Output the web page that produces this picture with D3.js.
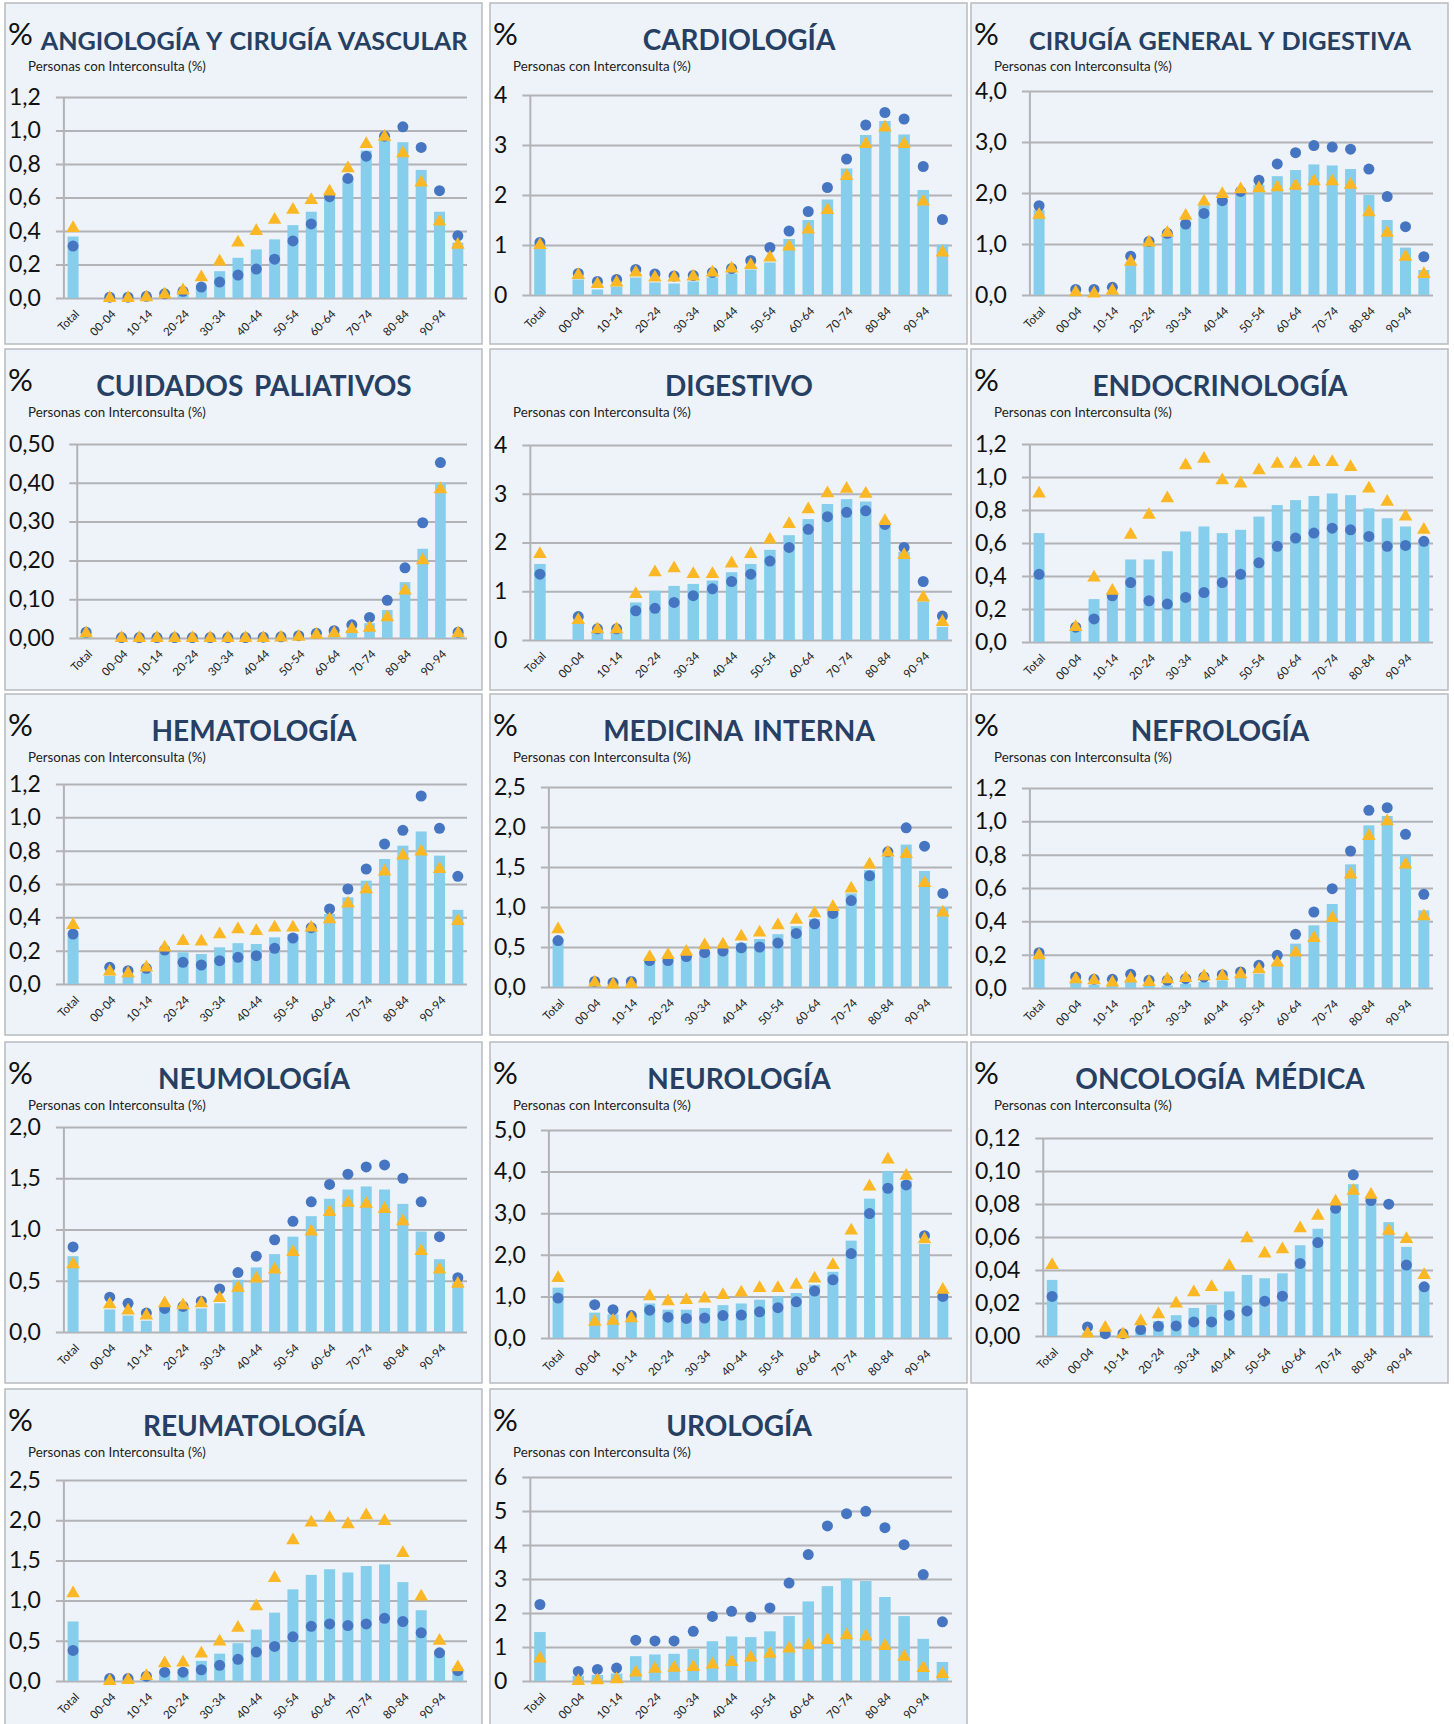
<!DOCTYPE html>
<html>
<head>
<meta charset="utf-8">
<script src="https://cdn.jsdelivr.net/npm/d3@7"></script>
<style>
  body { margin: 0; background: #fff; }
  text { font-family: Lato, "Open Sans", sans-serif; }
</style>
</head>
<body>
<svg id="chart" width="1454" height="1724"></svg>
<script>
// categories: a blank slot separates Total from the age groups
const ageGroups = ['Total', '', '00-04', '05-09', '10-14', '15-19', '20-24', '25-29', '30-34', '35-39',
  '40-44', '45-49', '50-54', '55-59', '60-64', '65-69', '70-74', '75-79', '80-84', '85-89', '90-94', '95+']
const valueGroups = ageGroups.filter(d => d !== '')

const panelTitles = ['ANGIOLOGÍA Y CIRUGÍA VASCULAR', 'CARDIOLOGÍA', 'CIRUGÍA GENERAL Y DIGESTIVA',
  'CUIDADOS PALIATIVOS', 'DIGESTIVO', 'ENDOCRINOLOGÍA', 'HEMATOLOGÍA', 'MEDICINA INTERNA', 'NEFROLOGÍA',
  'NEUMOLOGÍA', 'NEUROLOGÍA', 'ONCOLOGÍA MÉDICA', 'REUMATOLOGÍA', 'UROLOGÍA']
const noPercentSign = ['DIGESTIVO']
const subtitle = 'Personas con Interconsulta (%)'

// y axis ticks per panel
const yMax = [1.2, 4, 4, 0.5, 4, 1.2, 1.2, 2.5, 1.2, 2, 5, 0.12, 2.5, 6]
const yStep = [0.2, 1, 1, 0.1, 1, 0.2, 0.2, 0.5, 0.2, 0.5, 1, 0.02, 0.5, 1]
const yDecimals = [1, 0, 1, 2, 0, 1, 1, 1, 1, 1, 1, 2, 1, 0]

// bars (Total, 00-04 ... 95+)
const barSeries = [
  [0.367, 0, 0, 0.005, 0.01, 0.02, 0.06, 0.16, 0.24, 0.29, 0.35, 0.435, 0.515, 0.605, 0.715, 0.88, 0.94, 0.93, 0.765, 0.515, 0.33],
  [0.92, 0.31, 0.11, 0.17, 0.35, 0.25, 0.23, 0.27, 0.35, 0.43, 0.51, 0.65, 1.12, 1.5, 1.91, 2.53, 3.2, 3.48, 3.21, 2.1, 1.01],
  [1.67, 0.01, 0.01, 0.02, 0.62, 0.98, 1.16, 1.44, 1.76, 1.88, 2.03, 2.16, 2.33, 2.45, 2.56, 2.54, 2.47, 1.96, 1.47, 0.93, 0.49],
  [0.012, 0, 0, 0, 0, 0, 0, 0, 0, 0, 0.001, 0.002, 0.006, 0.012, 0.02, 0.038, 0.072, 0.144, 0.23, 0.40, 0.012],
  [1.56, 0.34, 0.17, 0.17, 0.77, 1.01, 1.11, 1.15, 1.22, 1.39, 1.56, 1.85, 2.15, 2.48, 2.79, 2.89, 2.84, 2.36, 1.81, 0.79, 0.27],
  [0.66, 0.07, 0.26, 0.28, 0.5, 0.5, 0.55, 0.67, 0.70, 0.66, 0.68, 0.76, 0.83, 0.86, 0.885, 0.9, 0.89, 0.81, 0.75, 0.70, 0.62],
  [0.29, 0.05, 0.045, 0.07, 0.19, 0.19, 0.18, 0.22, 0.245, 0.24, 0.28, 0.30, 0.33, 0.42, 0.52, 0.62, 0.75, 0.83, 0.915, 0.77, 0.445],
  [0.6, 0.04, 0.02, 0.04, 0.33, 0.33, 0.39, 0.43, 0.48, 0.55, 0.6, 0.66, 0.76, 0.85, 0.96, 1.17, 1.46, 1.63, 1.78, 1.45, 1.0],
  [0.176, 0.03, 0.02, 0.016, 0.036, 0.012, 0.016, 0.026, 0.036, 0.046, 0.06, 0.086, 0.146, 0.266, 0.376, 0.504, 0.742, 0.976, 1.032, 0.8, 0.466],
  [0.74, 0.22, 0.16, 0.11, 0.22, 0.22, 0.23, 0.28, 0.51, 0.63, 0.76, 0.93, 1.13, 1.30, 1.39, 1.42, 1.39, 1.25, 0.98, 0.71, 0.48],
  [1.21, 0.61, 0.57, 0.5, 0.83, 0.68, 0.68, 0.72, 0.79, 0.83, 0.92, 1.0, 1.08, 1.28, 1.59, 2.34, 3.35, 4.01, 3.78, 2.26, 1.03],
  [0.034, 0.002, 0.001, 0.001, 0.0035, 0.009, 0.0126, 0.017, 0.019, 0.027, 0.037, 0.035, 0.038, 0.055, 0.065, 0.077, 0.092, 0.083, 0.069, 0.054, 0.031],
  [0.74, 0.02, 0.02, 0.05, 0.13, 0.15, 0.25, 0.34, 0.47, 0.64, 0.85, 1.14, 1.32, 1.39, 1.35, 1.43, 1.45, 1.23, 0.88, 0.38, 0.13],
  [1.44, 0.15, 0.18, 0.22, 0.73, 0.78, 0.8, 0.94, 1.17, 1.31, 1.29, 1.46, 1.91, 2.34, 2.79, 3.01, 2.94, 2.47, 1.91, 1.24, 0.56]
]

// blue dots
const circleSeries = [
  [0.31, 0.005, 0.005, 0.01, 0.025, 0.04, 0.065, 0.095, 0.137, 0.173, 0.232, 0.341, 0.442, 0.605, 0.714, 0.847, 0.966, 1.022, 0.899, 0.641, 0.371],
  [1.05, 0.43, 0.27, 0.31, 0.51, 0.42, 0.38, 0.39, 0.45, 0.53, 0.69, 0.95, 1.28, 1.67, 2.15, 2.72, 3.4, 3.65, 3.52, 2.57, 1.51],
  [1.75, 0.11, 0.11, 0.15, 0.76, 1.05, 1.21, 1.39, 1.6, 1.85, 2.03, 2.25, 2.57, 2.79, 2.93, 2.9, 2.86, 2.47, 1.93, 1.34, 0.75],
  [0.015, 0.001, 0.001, 0.001, 0.001, 0.001, 0.001, 0.001, 0.001, 0.002, 0.003, 0.006, 0.012, 0.019, 0.034, 0.053, 0.097, 0.181, 0.297, 0.452, 0.015],
  [1.35, 0.48, 0.23, 0.23, 0.6, 0.65, 0.77, 0.91, 1.05, 1.2, 1.35, 1.62, 1.9, 2.27, 2.53, 2.62, 2.65, 2.37, 1.9, 1.2, 0.49],
  [0.41, 0.09, 0.14, 0.28, 0.36, 0.25, 0.23, 0.27, 0.3, 0.36, 0.41, 0.48, 0.58, 0.63, 0.66, 0.69, 0.68, 0.64, 0.58, 0.585, 0.61],
  [0.30, 0.1, 0.08, 0.094, 0.204, 0.13, 0.114, 0.14, 0.16, 0.17, 0.214, 0.276, 0.338, 0.45, 0.57, 0.69, 0.84, 0.922, 1.128, 0.934, 0.646],
  [0.58, 0.07, 0.054, 0.07, 0.33, 0.33, 0.38, 0.43, 0.45, 0.49, 0.5, 0.55, 0.67, 0.79, 0.92, 1.08, 1.39, 1.69, 1.99, 1.76, 1.17],
  [0.212, 0.066, 0.052, 0.052, 0.082, 0.046, 0.046, 0.056, 0.066, 0.08, 0.096, 0.136, 0.196, 0.322, 0.456, 0.596, 0.822, 1.066, 1.082, 0.922, 0.562],
  [0.83, 0.34, 0.28, 0.185, 0.23, 0.25, 0.3, 0.42, 0.58, 0.74, 0.9, 1.08, 1.27, 1.44, 1.54, 1.61, 1.63, 1.5, 1.27, 0.93, 0.53],
  [0.96, 0.8, 0.68, 0.54, 0.67, 0.5, 0.47, 0.48, 0.54, 0.55, 0.63, 0.73, 0.87, 1.13, 1.4, 2.03, 2.99, 3.6, 3.68, 2.46, 1.0],
  [0.024, 0.0055, 0.0014, 0.0014, 0.0039, 0.0059, 0.0061, 0.0085, 0.0085, 0.0126, 0.0152, 0.0211, 0.0241, 0.044, 0.0566, 0.0774, 0.0977, 0.0821, 0.0799, 0.043, 0.0298],
  [0.38, 0.03, 0.03, 0.06, 0.11, 0.11, 0.14, 0.195, 0.27, 0.36, 0.43, 0.55, 0.68, 0.71, 0.69, 0.71, 0.78, 0.74, 0.6, 0.35, 0.13],
  [2.25, 0.28, 0.34, 0.38, 1.2, 1.18, 1.18, 1.46, 1.9, 2.05, 1.88, 2.15, 2.88, 3.72, 4.56, 4.92, 4.99, 4.51, 4.01, 3.13, 1.74]
]

// orange triangles
const triangleSeries = [
  [0.417, 0, 0, 0.004, 0.02, 0.045, 0.123, 0.218, 0.331, 0.40, 0.466, 0.526, 0.585, 0.635, 0.774, 0.919, 0.962, 0.863, 0.689, 0.456, 0.317],
  [1.0, 0.4, 0.22, 0.25, 0.45, 0.35, 0.35, 0.37, 0.45, 0.53, 0.6, 0.75, 0.97, 1.31, 1.7, 2.38, 3.02, 3.35, 3.02, 1.87, 0.85],
  [1.57, 0.05, 0.03, 0.08, 0.65, 1.03, 1.22, 1.55, 1.83, 1.98, 2.07, 2.09, 2.11, 2.14, 2.23, 2.23, 2.16, 1.62, 1.22, 0.75, 0.41],
  [0.012, 0, 0, 0, 0, 0, 0, 0, 0, 0, 0.001, 0.003, 0.008, 0.012, 0.023, 0.026, 0.053, 0.122, 0.2, 0.383, 0.012],
  [1.76, 0.41, 0.22, 0.22, 0.94, 1.39, 1.47, 1.35, 1.35, 1.57, 1.76, 2.06, 2.38, 2.68, 3.01, 3.1, 3.0, 2.44, 1.74, 0.87, 0.37],
  [0.9, 0.09, 0.39, 0.31, 0.65, 0.77, 0.87, 1.07, 1.11, 0.98, 0.96, 1.04, 1.08, 1.08, 1.09, 1.09, 1.06, 0.93, 0.85, 0.76, 0.68],
  [0.354, 0.074, 0.064, 0.098, 0.218, 0.258, 0.254, 0.298, 0.328, 0.318, 0.338, 0.338, 0.338, 0.388, 0.482, 0.568, 0.674, 0.77, 0.794, 0.69, 0.378],
  [0.72, 0.054, 0.03, 0.04, 0.375, 0.4, 0.44, 0.52, 0.53, 0.63, 0.68, 0.77, 0.84, 0.92, 1.0, 1.23, 1.53, 1.68, 1.66, 1.3, 0.93],
  [0.196, 0.052, 0.046, 0.032, 0.056, 0.036, 0.052, 0.06, 0.07, 0.072, 0.082, 0.112, 0.152, 0.212, 0.3, 0.42, 0.68, 0.912, 1.0, 0.74, 0.43],
  [0.66, 0.27, 0.21, 0.16, 0.28, 0.26, 0.28, 0.33, 0.43, 0.52, 0.61, 0.78, 0.98, 1.17, 1.26, 1.25, 1.2, 1.08, 0.79, 0.61, 0.47],
  [1.44, 0.39, 0.41, 0.47, 1.0, 0.88, 0.91, 0.95, 1.03, 1.09, 1.2, 1.2, 1.28, 1.43, 1.75, 2.58, 3.64, 4.29, 3.9, 2.37, 1.16],
  [0.043, 0.0014, 0.0049, 0.001, 0.0089, 0.0132, 0.0197, 0.0264, 0.0296, 0.0424, 0.0592, 0.05, 0.0525, 0.0653, 0.0728, 0.0815, 0.088, 0.0855, 0.0637, 0.0588, 0.0369],
  [1.09, 0.0, 0.01, 0.06, 0.22, 0.23, 0.34, 0.49, 0.66, 0.93, 1.28, 1.75, 1.97, 2.03, 1.95, 2.06, 1.99, 1.59, 1.05, 0.5, 0.17],
  [0.66, 0.0, 0.02, 0.05, 0.25, 0.36, 0.39, 0.41, 0.48, 0.56, 0.69, 0.8, 0.95, 1.05, 1.2, 1.34, 1.31, 1.03, 0.71, 0.38, 0.2]
]

/* LAYOUT */
const panelW = 477, panelH = 341
const colX = [5, 490, 971]
const rowY = [3, 349, 694, 1042, 1389]
const plotTop = [94, 92, 88, 95, 96, 95, 90, 93, 94, 85, 88, 96, 91, 88]
const plotZero = [295, 292, 292, 289, 291, 293, 290, 293, 294, 290, 296, 294, 292, 292]
const plotRight = 462
const fontStack = 'Lato, "Open Sans", sans-serif'

const svg = d3.select('#chart')

panelTitles.forEach((title, i) => {
  const g = svg.append('g')
    .attr('transform', `translate(${colX[i % 3]}, ${rowY[Math.floor(i / 3)]})`)

  g.append('rect')
    .attr('width', panelW)
    .attr('height', panelH)
    .attr('fill', '#edf3f9')
    .attr('stroke', '#b8bbbf')
    .attr('stroke-width', 1.5)

  /* HEADERS */
  if (!noPercentSign.includes(title)) {
    g.append('text').attr('x', 3).attr('y', 42)
      .attr('font-size', 31).attr('fill', '#111').text('%')
  }
  const t = g.append('text')
    .attr('x', 249).attr('y', 47)
    .attr('text-anchor', 'middle')
    .attr('font-size', 28).attr('font-weight', 700)
    .attr('word-spacing', 4)
    .attr('fill', '#263f63')
    .text(title)
  // long titles are set smaller, like the source
  if (t.node().getComputedTextLength() > 400) t.attr('font-size', 25.2).attr('word-spacing', 2)

  g.append('text').attr('x', 23).attr('y', 68)
    .attr('font-size', 13.3).attr('fill', '#222').text(subtitle)

  /* SCALES */
  const fmt = v => d3.format(`.${yDecimals[i]}f`)(v).replace('.', ',')
  const tickVals = d3.range(0, Math.round(yMax[i] / yStep[i]) + 1).map(k => +(k * yStep[i]).toFixed(4))

  const probe = g.append('text').attr('font-size', 23).text(fmt(yMax[i]))
  const labelW = probe.node().getComputedTextLength()
  probe.remove()
  const labelRight = 4 + labelW
  const gridLeft = labelRight + 15
  const axisX = gridLeft + 8

  const yScale = d3.scaleLinear()
    .domain([0, yMax[i]])
    .range([plotZero[i], plotTop[i]])

  const xScale = d3.scaleBand()
    .domain(ageGroups)
    .range([axisX, plotRight])
    .paddingInner(0.4)
    .paddingOuter(0.2)

  /* GRIDLINES */
  const grid = g.append('g')
    .attr('transform', `translate(${gridLeft}, 0)`)
    .call(d3.axisLeft(yScale).tickValues(tickVals).tickSize(-(plotRight - gridLeft)).tickFormat(''))
  grid.select('.domain').remove()
  grid.selectAll('line').attr('stroke', '#b1b3b6').attr('stroke-width', 2)

  g.append('line')
    .attr('x1', axisX).attr('x2', axisX)
    .attr('y1', plotTop[i]).attr('y2', plotZero[i])
    .attr('stroke', '#b1b3b6').attr('stroke-width', 2)

  /* Y LABELS */
  const yAx = g.append('g')
    .attr('transform', `translate(${labelRight}, 0)`)
    .call(d3.axisLeft(yScale).tickValues(tickVals).tickFormat(fmt).tickSize(0).tickPadding(0))
  yAx.select('.domain').remove()
  yAx.selectAll('text').attr('font-size', 23).attr('fill', '#111')
    .style('font-family', fontStack)

  /* X LABELS */
  const xAx = g.append('g')
    .attr('transform', `translate(0, ${plotZero[i]})`)
    .call(d3.axisBottom(xScale).tickSize(0).tickFormat((d, k) => (k % 2 === 0 ? d : '')))
  xAx.select('.domain').remove()
  xAx.selectAll('text')
    .attr('x', 0).attr('y', 0).attr('dy', '0.35em')
    .attr('transform', 'translate(4, 14) rotate(-45)')
    .style('text-anchor', 'end')
    .style('font-family', fontStack)
    .attr('font-size', 11.5).attr('fill', '#222')

  /* MARKS */
  g.selectAll('rect.bar')
    .data(barSeries[i])
    .enter().append('rect')
    .attr('class', 'bar')
    .attr('x', (d, k) => xScale(valueGroups[k]))
    .attr('width', xScale.bandwidth())
    .attr('y', d => yScale(d))
    .attr('height', d => plotZero[i] - yScale(d))
    .attr('fill', '#86ceec')

  g.selectAll('circle.dot')
    .data(circleSeries[i])
    .enter().append('circle')
    .attr('class', 'dot')
    .attr('cx', (d, k) => xScale(valueGroups[k]) + xScale.bandwidth() / 2)
    .attr('cy', d => yScale(d))
    .attr('r', 5.5)
    .attr('fill', '#4675c2')

  const tri = d3.symbol(d3.symbolTriangle, 80)
  g.selectAll('path.tri')
    .data(triangleSeries[i])
    .enter().append('path')
    .attr('class', 'tri')
    .attr('d', tri)
    .attr('transform', (d, k) => `translate(${xScale(valueGroups[k]) + xScale.bandwidth() / 2}, ${yScale(d)})`)
    .attr('fill', '#fcb725')
})
</script>
</body>
</html>
